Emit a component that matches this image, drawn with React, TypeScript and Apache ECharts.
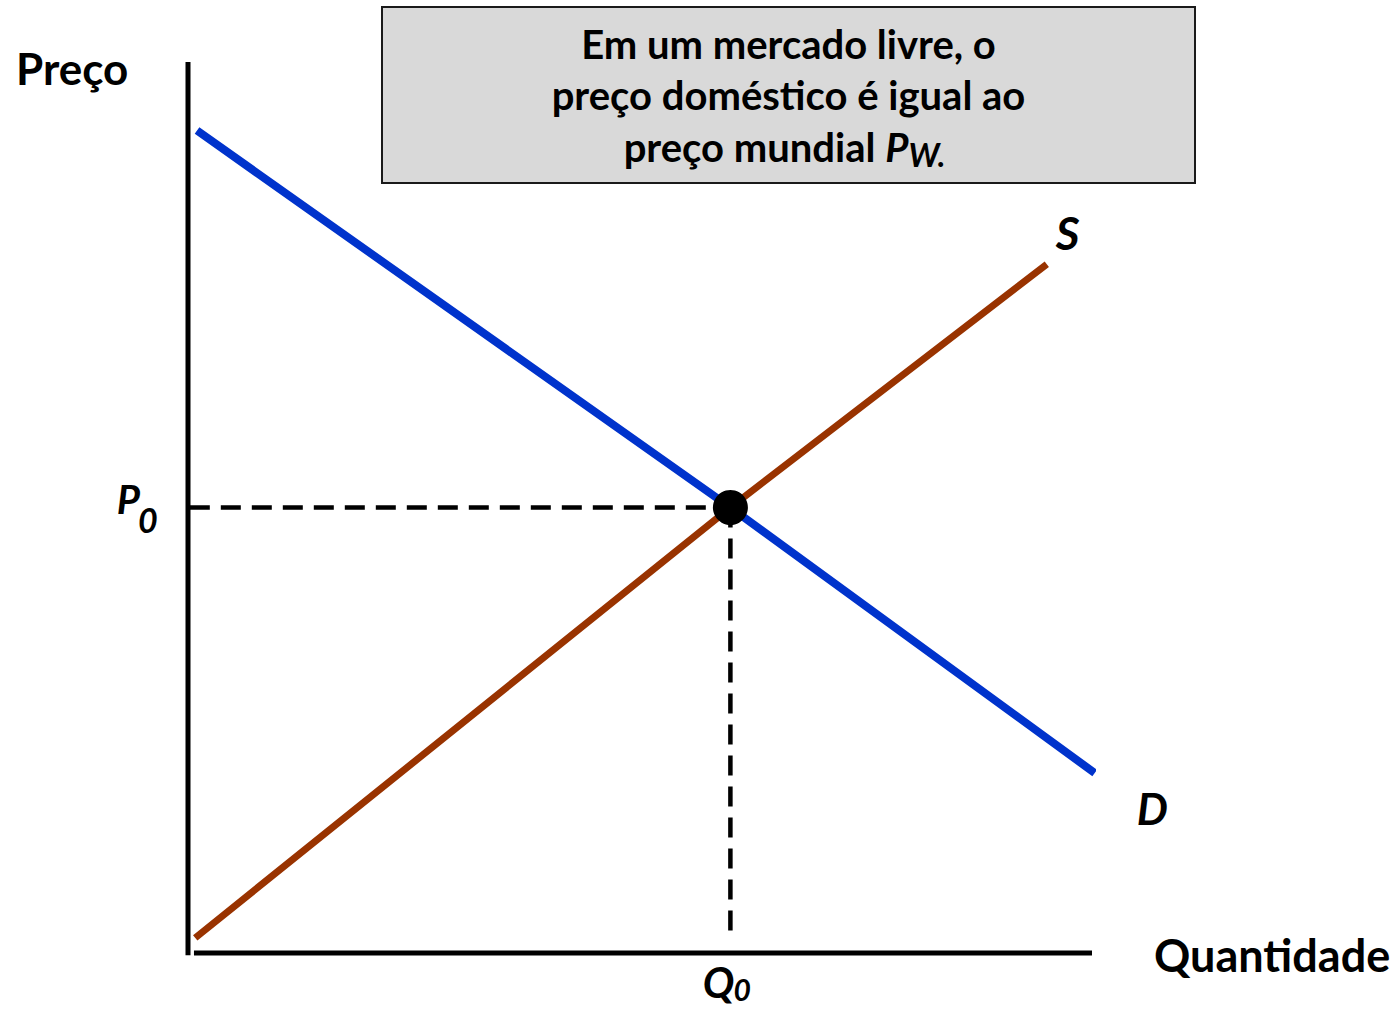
import React, { useEffect, useRef } from "react";
import * as echarts from "echarts";

// Equilibrium (free market): price P0, quantity Q0
const P0 = 50;
const Q0 = 60;

// Demand curve (quantity, price)
const demandQ = [1, 60, 100.3];
const demandP = [92.3, 50, 20.2];

// Supply curve (quantity, price)
const supplyQ = [0.8, 60, 95];
const supplyP = [1.7, 50, 77.3];

// Texts
const boxLines = ["Em um mercado livre, o", "preço doméstico é igual ao"];
const boxLine3 = "preço mundial ";
const yTitle = "Preço";
const xTitle = "Quantidade";
const supplyLabel = "S";
const demandLabel = "D";

const FONT = "Lato, 'Open Sans', sans-serif";

const zip = (a: number[], b: number[]) => a.map((v, i) => [v, b[i]]);

export default function App() {
  const ref = useRef<HTMLDivElement>(null);

  useEffect(() => {
    const chart = echarts.init(ref.current!, null, { renderer: "svg" });
    chart.setOption({
      animation: false,
      backgroundColor: "#ffffff",
      grid: { left: 188, right: 303, top: 62, bottom: 57 },
      xAxis: {
        type: "value",
        min: 0,
        max: 100,
        axisLine: { show: false },
        axisTick: { show: false },
        axisLabel: { show: false },
        splitLine: { show: false },
      },
      yAxis: {
        type: "value",
        min: 0,
        max: 100,
        axisLine: { show: false },
        axisTick: { show: false },
        axisLabel: { show: false },
        splitLine: { show: false },
      },
      series: [
        {
          type: "line",
          name: "eixo-y",
          data: [[0, 100], [0, -0.25]],
          showSymbol: false,
          clip: false,
          lineStyle: { color: "#000", width: 5 },
          z: 5,
        },
        {
          type: "line",
          name: "eixo-x",
          data: [[0.66, 0], [100, 0]],
          showSymbol: false,
          clip: false,
          lineStyle: { color: "#000", width: 5 },
          z: 5,
        },
        {
          type: "line",
          name: "P0 tracejado",
          data: [[0.2, P0], [Q0, P0]],
          showSymbol: false,
          clip: false,
          lineStyle: { color: "#000", width: 4.5, type: [20, 11] },
          z: 3,
        },
        {
          type: "line",
          name: "Q0 tracejado",
          data: [[Q0, P0], [Q0, 1.5]],
          showSymbol: false,
          clip: false,
          lineStyle: { color: "#000", width: 4.5, type: [20, 11] },
          z: 3,
        },
        {
          type: "line",
          name: "S",
          data: zip(supplyQ, supplyP),
          showSymbol: false,
          clip: false,
          lineStyle: { color: "#993300", width: 7, cap: "butt" },
          z: 4,
        },
        {
          type: "line",
          name: "D",
          data: zip(demandQ, demandP),
          showSymbol: false,
          clip: false,
          lineStyle: { color: "#0033CC", width: 8, cap: "butt" },
          z: 4,
        },
        {
          type: "scatter",
          name: "equilibrio",
          data: [[Q0, P0]],
          symbolSize: 35,
          itemStyle: { color: "#000", opacity: 1 },
          z: 10,
        },
      ],
    });

    const px = (q: number, p: number) =>
      chart.convertToPixel({ gridIndex: 0 }, [q, p]) as number[];

    const yAxisAtP0 = px(0, P0);
    const xAxisAtQ0 = px(Q0, 0);
    const sEnd = px(supplyQ[supplyQ.length - 1], supplyP[supplyP.length - 1]);
    const dEnd = px(demandQ[demandQ.length - 1], demandP[demandP.length - 1]);
    const yTop = px(0, 100);
    const xRight = px(100, 0);

    const txt = (
      text: string,
      x: number,
      y: number,
      size: number,
      align: string,
      italic = false
    ) => ({
      type: "text",
      z: 20,
      style: {
        text,
        x,
        y,
        fill: "#000",
        fontFamily: FONT,
        fontWeight: "bold",
        fontStyle: italic ? "italic" : "normal",
        fontSize: size,
        align,
        textAlign: align,
        verticalAlign: "middle",
        textVerticalAlign: "middle",
      },
    });

    const boxX = 382;
    const boxY = 7;
    const boxW = 813;
    const boxH = 176;
    const cx = boxX + boxW / 2;

    chart.setOption({
      graphic: {
        elements: [
          {
            type: "rect",
            z: 15,
            shape: { x: boxX, y: boxY, width: boxW, height: boxH },
            style: { fill: "#d9d9d9", stroke: "#1a1a1a", lineWidth: 2 },
          },
          txt(boxLines[0], cx, 44, 40, "center"),
          txt(boxLines[1], cx, 95, 40, "center"),
          {
            type: "text",
            z: 20,
            style: {
              text: `{n|${boxLine3}}{i|P}{s|W.}`,
              x: cx - 4,
              y: 147,
              align: "center",
              textAlign: "center",
              verticalAlign: "middle",
              textVerticalAlign: "middle",
              fill: "#000",
              fontFamily: FONT,
              fontWeight: "bold",
              fontSize: 40,
              rich: {
                n: { fontFamily: FONT, fontWeight: "bold", fontSize: 40, lineHeight: 46, fill: "#000" },
                i: { fontFamily: FONT, fontWeight: "bold", fontStyle: "italic", fontSize: 40, lineHeight: 46, fill: "#000" },
                s: {
                  fontFamily: FONT,
                  fontWeight: "bold",
                  fontStyle: "italic",
                  fontSize: 32,
                  lineHeight: 24,
                  verticalAlign: "bottom",
                  fill: "#000",
                },
              },
            },
          },
          txt(yTitle, yTop[0] - 172, yTop[1] + 6, 44, "left"),
          txt(xTitle, xRight[0] + 62, xRight[1] + 2, 45, "left"),
          txt("P", yAxisAtP0[0] - 48, yAxisAtP0[1] - 9, 40, "right", true),
          txt("0", yAxisAtP0[0] - 50, yAxisAtP0[1] + 12, 34, "left", true),
          txt("Q", xAxisAtQ0[0] + 4, xAxisAtQ0[1] + 29, 42, "right", true),
          txt("0", xAxisAtQ0[0] + 3, xAxisAtQ0[1] + 36, 30, "left", true),
          txt(supplyLabel, sEnd[0] + 9, sEnd[1] - 32, 46, "left", true),
          txt(demandLabel, dEnd[0] + 42, dEnd[1] + 35, 44, "left", true),
        ],
      },
    });

    return () => chart.dispose();
  }, []);

  return (
    <div
      ref={ref}
      style={{ position: "absolute", left: 0, top: 0, width: 1395, height: 1010, background: "#fff" }}
    />
  );
}
